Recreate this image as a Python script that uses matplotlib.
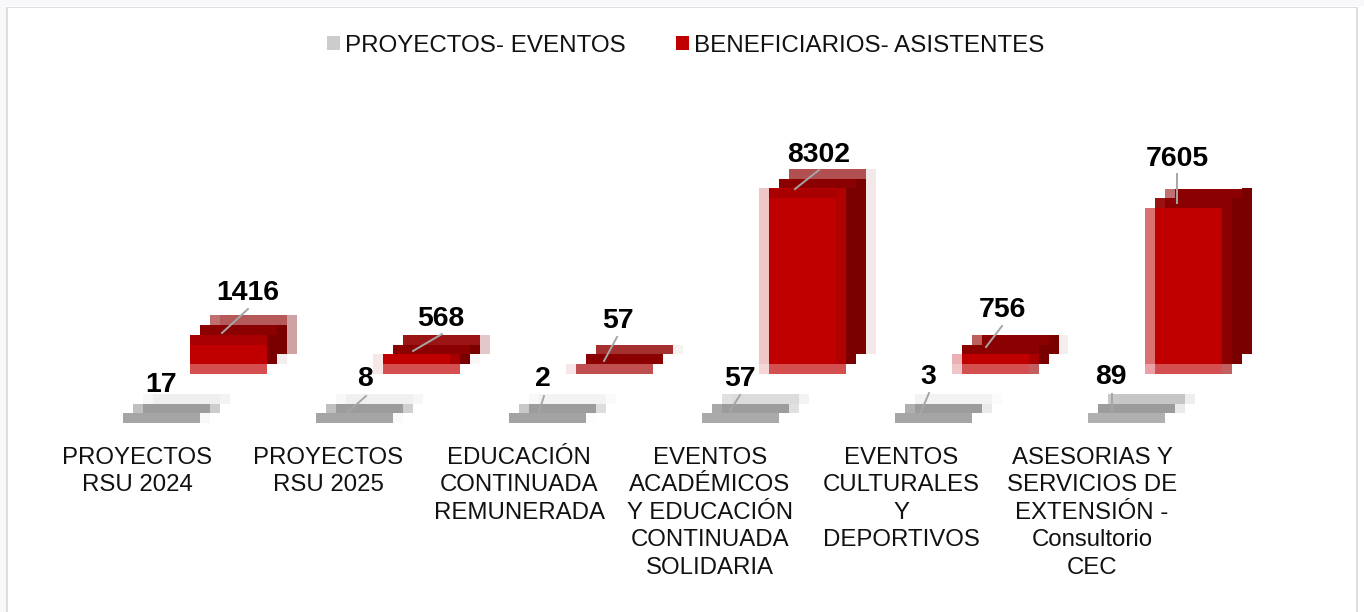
import math
import matplotlib
matplotlib.use("Agg")
import matplotlib.pyplot as plt
from matplotlib.patches import Patch, Rectangle
from matplotlib.lines import Line2D
from matplotlib.transforms import Affine2D

categories = ["PROYECTOS\nRSU 2024", "PROYECTOS\nRSU 2025", "EDUCACIÓN\nCONTINUADA\nREMUNERADA",
              "EVENTOS\nACADÉMICOS\nY EDUCACIÓN\nCONTINUADA\nSOLIDARIA",
              "EVENTOS\nCULTURALES\nY\nDEPORTIVOS",
              "ASESORIAS Y\nSERVICIOS DE\nEXTENSIÓN -\nConsultorio\nCEC"]
proyectos = [17, 8, 2, 57, 3, 89]
beneficiarios = [1416, 568, 57, 8302, 756, 7605]
series_names = ["PROYECTOS- EVENTOS", "BENEFICIARIOS- ASISTENTES"]

plt.rcParams["font.family"] = ["Liberation Sans", "DejaVu Sans"]
W, H = 1364, 612
fig = plt.figure(figsize=(W / 100, H / 100), dpi=100, facecolor="white")
px = Affine2D().scale(1 / W, -1 / H).translate(0, 1) + fig.transFigure

# Layout (pixels)
AX_TOP, AX_BOTTOM = 8, 440
RED_BASE, GRAY_BASE = 364.0, 423.0
K, ROW = 0.0212, 9.75
X0, STEP = 123.0, 193.0
ax = fig.add_axes([0, 1 - AX_BOTTOM / H, 1, (AX_BOTTOM - AX_TOP) / H])
ax.set_xlim(-X0 / STEP, (W - X0) / STEP)
ax.set_ylim((RED_BASE - AX_BOTTOM) / K, (RED_BASE - AX_TOP) / K)
ax.patch.set_alpha(0)
for s in ax.spines.values():
    s.set_visible(False)
ax.set_yticks([])
ax.set_xticks([(137 + 191 * i - X0) / STEP for i in range(len(categories))])
ax.set_xticklabels(categories, fontsize=17.25, color="#111111", linespacing=1.32)
ax.tick_params(axis="x", length=0, pad=5)


def box(x0, x1, r0, r1, color, base=RED_BASE):
    """x in pixels, r in rows above the base line."""
    if color is None or r1 <= r0:
        return
    b = (RED_BASE - base + r0 * ROW) / K
    ax.bar((x0 - X0) / STEP, (r1 - r0) * ROW / K, (x1 - x0) / STEP, bottom=b,
           align="edge", color=color, linewidth=0)


D, DD, M = "#7A0000", "#8B0000", "#C00000"
red_x = [190, 383, 576, 769, 952, 1145]
red_style = [
    dict(top="#A80000", l3="#B55A5A", l3l="#C07070", l2l=None, col1=D, col2s=1, col3="#CFA3A3", col4=None,
         fl=None, ol=None, olb=None, band="#D45050", bandr=None, floor="#F5EEEE", l3r=None, end=None),
    dict(top=None, l3="#9B1515", l3l=None, l2l=None, col1=D, col2s=1, col3="#E3C8CA", col4=None,
         fl=None, ol="#F7E8E8", olb="#F7E8E8", band="#D45050", bandr=None, floor="#FBF7F8", l3r=None, end="#A80000"),
    dict(top=None, l3="#A53030", l3l=None, l2l=None, col1="#FBF8F8", col2s=1, col3="#F5F3F0", col4=None,
         fl=None, ol=None, olb="#F8E5E8", band="#C05050", bandr=None, floor=None, l3r=None, end=None),
    dict(top="#A80000", l3="#B05050", l3l=None, l2l=None, col1=D, col2s=1, col3="#F3E8E8", col4=None,
         fl=None, ol="#F0C5C5", olb="#F5D5D5", band="#D45050", bandr=None, floor=None, l3r=None, end="#B00000"),
    dict(top=None, l3=DD, l3l="#BD6060", l2l=None, col1="#A80000", col2s=0, col3=D, col4="#F5EEEE",
         fl="#EBB0B5", ol=None, olb=None, band="#D45050", bandr="#C06060", floor=None, l3r=None, end=None,
         flb="#F0C5C8"),
    dict(top=None, l3=DD, l3l="#C07070", l2l="#9B1010", col1=DD, col2s=0, col3=D, col4=None,
         fl="#DC7070", ol=None, olb=None, band="#D45050", bandr="#C06060", floor=None, l3r=None, end=None,
         flb="#ECA0A5"),
]
gray_style = [
    dict(l3="#EFEFEF", l3l="#F7F7F7", l3r="#F3F3F3", l2l="#C0C0C0", l2r="#CCCCCC", f="#A5A5A5", fr="#F8F8F8"),
    dict(l3="#F0F0F0", l3l="#F8F8F8", l3r="#F6F6F6", l2l="#C0C0C0", l2r="#D0D0D0", f="#A5A5A5", fr="#FAFAFA"),
    dict(l3="#F3F3F3", l3l="#F8F8F8", l3r="#FAFAFA", l2l="#C8C8C8", l2r="#DDDDDD", f="#A3A3A3", fr="#FCFCFC"),
    dict(l3="#DCDCDC", l3l="#E0E0E0", l3r="#F3F3F3", l2l="#A8A8A8", l2r="#E0E0E0", f="#AAAAAA", fr=None),
    dict(l3="#F3F3F3", l3l="#F3F3F3", l3r="#FBFBFB", l2l="#B0B0B0", l2r="#EAEAEA", f="#A5A5A5", fr=None),
    dict(l3="#C6C6C6", l3l="#C8C8C8", l3r="#EEEEEE", l2l="#9C9C9C", l2r="#EAEAEA", f="#B0B0B0", fr=None),
]

# Red blocks
for i, (v, x, s) in enumerate(zip(beneficiarios, red_x, red_style)):
    n = math.floor(v * K / ROW)
    box(x + 20, x + 97, n + 1, n + 2, s["l3"])
    box(x + 20, x + 30, n + 1, n + 2, s["l3l"])
    box(x + 97, x + 107, 1, n + 2, s["col3"])
    box(x + 107, x + 116, 1, n + 2, s["col4"])
    box(x + 87, x + 97, s["col2s"], n + 1, D)
    box(x + 87, x + 97, 0, 1, s["floor"])
    box(x + 10, x + 87, n, n + 1, DD)
    box(x + 10, x + 20, n, n + 1, s["l2l"])
    box(x + 77, x + 87, 0, n, s["col1"])
    if n:
        box(x, x + 77, 0, n, M)
    if s["top"]:
        box(x, x + 77, n - 1, n, s["top"])
    if s["end"]:
        box(x + 67, x + 77, 0, n, s["end"])
    box(x - 10, x, 0, n, s["ol"])
    box(x, x + 10, 0, n, s["fl"])
    box(x - 10, x, -1, 0, s["olb"])
    box(x, x + 77, -1, 0, s["band"])
    box(x, x + 10, -1, 0, s.get("flb"))
    box(x + 77, x + 87, -1, 0, s["bandr"])

# Gray blocks
for i, (v, s) in enumerate(zip(proyectos, gray_style)):
    x = X0 + STEP * i
    n = math.floor(v * K / ROW)
    b = GRAY_BASE
    box(x + 30, x + 97, n + 2, n + 3, s["l3"], b)
    box(x + 20, x + 30, n + 2, n + 3, s["l3l"], b)
    box(x + 97, x + 107, n + 2, n + 3, s["l3r"], b)
    box(x + 20, x + 87, n + 1, n + 2, "#9C9C9C", b)
    box(x + 10, x + 20, n + 1, n + 2, s["l2l"], b)
    box(x + 87, x + 97, n + 1, n + 2, s["l2r"], b)
    box(x, x + 77, n, n + 1, s["f"], b)
    box(x + 77, x + 87, n, n + 1, s["fr"], b)

# Data labels with leader lines: label centre, leader start, leader end
red_lab = [(248, 290), (441, 316), (618, 318), (819, 151.5), (1002, 307), (1177, 155.5)]
red_lead = [(248, 309, 222, 333), (442, 334, 413, 351), (617, 337, 604, 361),
            (819, 170, 795, 189), (1002, 326, 986, 347), (1177, 174, 1177, 203)]
gray_lab = [(161, 381.5), (365, 376.5), (543, 376.5), (740, 375.5), (928, 374.5), (1111, 374.5)]
gray_lead = [None, (366, 396, 348, 412), (544, 396, 539, 412), (740, 395, 730, 411),
             (929, 393, 921, 412), (1112, 394, 1112, 410)]
for vals, labs, leads in ((proyectos, gray_lab, gray_lead), (beneficiarios, red_lab, red_lead)):
    for v, (lx, ly), ld in zip(vals, labs, leads):
        fig.text(lx, ly, str(v), transform=px, ha="center", va="center_baseline",
                 fontsize=20.4, fontweight="bold", color="black")
        if ld:
            fig.add_artist(Line2D([ld[0], ld[2]], [ld[1], ld[3]], transform=px,
                                  color="#A6A6A6", lw=1.4))

# Legend
handles = [Patch(color="#CCCCCC", linewidth=0), Patch(color="#C00000", linewidth=0)]
fig.legend(handles, series_names, loc="center", bbox_to_anchor=(685.5, 45.5), bbox_transform=px,
           ncol=2, frameon=False, fontsize=17.35, handlelength=0.55, handleheight=0.55,
           handletextpad=0.2, columnspacing=2.1, borderpad=0, borderaxespad=0, labelcolor="#111111")

# Frame
for (x, y, w, h, c) in [(0, 0, W, 6, "#F8F8FA"), (0, 0, 6, H, "#F9F9FB"),
                        (6, 6.5, 1352, 1.5, "#DCDCDC"), (6, 6.5, 1.8, H, "#DEDEDE"),
                        (1356, 6.5, 2, H, "#DEDEDE")]:
    fig.add_artist(Rectangle((x, y), w, h, transform=px, facecolor=c, edgecolor="none"))

fig.savefig("out.png", dpi=100)
